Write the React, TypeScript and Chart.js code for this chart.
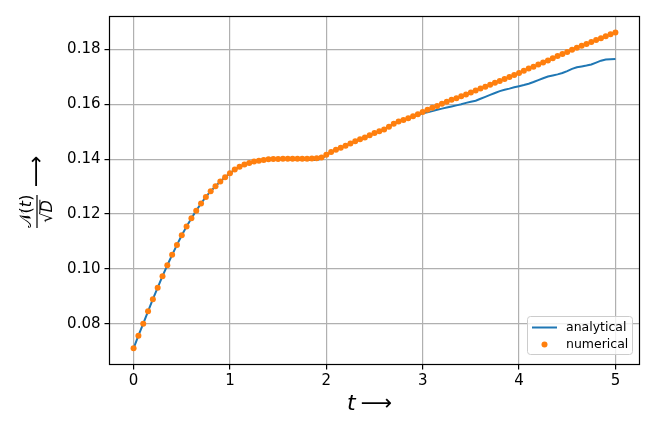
import React, { useEffect, useRef } from "react";
import { Chart, registerables } from "chart.js";

Chart.register(...registerables);

const tValues = [
  0.0, 0.05, 0.1, 0.15, 0.2, 0.25, 0.3, 0.35, 0.4, 0.45,
  0.5, 0.55, 0.6, 0.65, 0.7, 0.75, 0.8, 0.85, 0.9, 0.95,
  1.0, 1.05, 1.1, 1.15, 1.2, 1.25, 1.3, 1.35, 1.4, 1.45,
  1.5, 1.55, 1.6, 1.65, 1.7, 1.75, 1.8, 1.85, 1.9, 1.95,
  2.0, 2.05, 2.1, 2.15, 2.2, 2.25, 2.3, 2.35, 2.4, 2.45,
  2.5, 2.55, 2.6, 2.65, 2.7, 2.75, 2.8, 2.85, 2.9, 2.95,
  3.0, 3.05, 3.1, 3.15, 3.2, 3.25, 3.3, 3.35, 3.4, 3.45,
  3.5, 3.55, 3.6, 3.65, 3.7, 3.75, 3.8, 3.85, 3.9, 3.95,
  4.0, 4.05, 4.1, 4.15, 4.2, 4.25, 4.3, 4.35, 4.4, 4.45,
  4.5, 4.55, 4.6, 4.65, 4.7, 4.75, 4.8, 4.85, 4.9, 4.95,
  5.0,
];

const numericalValues = [
  0.0710, 0.0756, 0.0800, 0.0845, 0.0889, 0.0931, 0.0973, 0.1013, 0.1051, 0.1087,
  0.1122, 0.1154, 0.1184, 0.1212, 0.1238, 0.1262, 0.1283, 0.1301, 0.1318, 0.1334,
  0.1348, 0.1362, 0.1372, 0.1380, 0.1386, 0.1391, 0.1394, 0.1397, 0.1399, 0.1400,
  0.1400, 0.1401, 0.1401, 0.1401, 0.1401, 0.1401, 0.1401, 0.1402, 0.1403, 0.1406,
  0.1416, 0.1426, 0.1434, 0.1441, 0.1449, 0.1457, 0.1465, 0.1472, 0.1479, 0.1487,
  0.1495, 0.1502, 0.1508, 0.1518, 0.1529, 0.1537, 0.1543, 0.1549, 0.1556, 0.1564,
  0.1572, 0.1580, 0.1587, 0.1594, 0.1602, 0.1609, 0.1616, 0.1622, 0.1629, 0.1636,
  0.1643, 0.1650, 0.1657, 0.1664, 0.1671, 0.1678, 0.1685, 0.1692, 0.1699, 0.1707,
  0.1714, 0.1722, 0.1730, 0.1737, 0.1745, 0.1752, 0.1760, 0.1768, 0.1776, 0.1783,
  0.1791, 0.1799, 0.1806, 0.1813, 0.1820, 0.1827, 0.1834, 0.1841, 0.1848, 0.1855,
  0.1862,
];

const analyticalValues = [
  0.0710, 0.0756, 0.0800, 0.0845, 0.0889, 0.0931, 0.0973, 0.1013, 0.1051, 0.1087,
  0.1122, 0.1154, 0.1184, 0.1212, 0.1238, 0.1262, 0.1283, 0.1301, 0.1318, 0.1334,
  0.1348, 0.1362, 0.1372, 0.1380, 0.1386, 0.1391, 0.1394, 0.1397, 0.1399, 0.1400,
  0.1400, 0.1400, 0.1399, 0.1398, 0.1397, 0.1397, 0.1397, 0.1397, 0.1397, 0.1401,
  0.1414, 0.1426, 0.1434, 0.1441, 0.1449, 0.1457, 0.1465, 0.1472, 0.1479, 0.1487,
  0.1495, 0.1502, 0.1508, 0.1518, 0.1529, 0.1537, 0.1543, 0.1549, 0.1556, 0.1561,
  0.1567, 0.1571, 0.1575, 0.1580, 0.1584, 0.1588, 0.1592, 0.1596, 0.1600, 0.1605,
  0.1609, 0.1613, 0.1620, 0.1627, 0.1634, 0.1641, 0.1648, 0.1653, 0.1657, 0.1662,
  0.1666, 0.1670, 0.1675, 0.1681, 0.1688, 0.1695, 0.1701, 0.1705, 0.1709, 0.1714,
  0.1721, 0.1729, 0.1735, 0.1738, 0.1741, 0.1745, 0.1752, 0.1759, 0.1763, 0.1764,
  0.1765,
];

const xTicks = [0, 1, 2, 3, 4, 5];
const yTicks = [0.08, 0.1, 0.12, 0.14, 0.16, 0.18];
const seriesNames = ["analytical", "numerical"];

const FONT = '"DejaVu Sans", sans-serif';
const BLUE = "#1f77b4";
const ORANGE = "#ff7f0e";

const decorPlugin = {
  id: "decor",
  afterDraw(chart: any) {
    const ctx = chart.ctx as CanvasRenderingContext2D;
    const a = chart.chartArea;
    ctx.save();
    // spines
    ctx.strokeStyle = "#000";
    ctx.lineWidth = 1.2;
    ctx.strokeRect(a.left, a.top, a.right - a.left, a.bottom - a.top);

    // legend
    const lx = 527, ly = 316, lw = 105, lh = 38;
    ctx.beginPath();
    (ctx as any).roundRect(lx + 0.5, ly + 0.5, lw, lh, 3);
    ctx.fillStyle = "rgba(255,255,255,0.8)";
    ctx.fill();
    ctx.strokeStyle = "#cccccc";
    ctx.lineWidth = 1;
    ctx.stroke();
    ctx.strokeStyle = BLUE;
    ctx.lineWidth = 2;
    ctx.beginPath();
    ctx.moveTo(532, 327.5);
    ctx.lineTo(557, 327.5);
    ctx.stroke();
    ctx.fillStyle = ORANGE;
    ctx.beginPath();
    ctx.arc(544.5, 344.5, 3, 0, Math.PI * 2);
    ctx.fill();
    ctx.fillStyle = "#000";
    ctx.font = `12.5px ${FONT}`;
    ctx.textBaseline = "middle";
    ctx.textAlign = "left";
    ctx.fillText(seriesNames[0], 566, 327.5);
    ctx.fillText(seriesNames[1], 566, 344.5);

    // x label
    ctx.textBaseline = "alphabetic";
    ctx.font = `italic 22px ${FONT}`;
    ctx.fillText("t", 347, 410);
    const tw = ctx.measureText("t").width;
    ctx.font = `22px ${FONT}`;
    ctx.fillText("\u27F6", 347 + tw + 5, 410);

    // y label (rotated)
    ctx.translate(37, 228);
    ctx.rotate(-Math.PI / 2);
    const segs = [
      { t: "\uD835\uDCA9", f: `16px ${FONT}` },
      { t: "(", f: `16px ${FONT}` },
      { t: "t", f: `italic 16px ${FONT}` },
      { t: ")", f: `16px ${FONT}` },
    ];
    let total = 0;
    for (const s of segs) {
      ctx.font = s.f;
      total += ctx.measureText(s.t).width;
    }
    let u = 16.5 - total / 2;
    for (const s of segs) {
      ctx.font = s.f;
      ctx.fillText(s.t, u, -6);
      u += ctx.measureText(s.t).width;
    }
    ctx.fillRect(0, -0.6, 33, 1.2);
    ctx.font = `16px ${FONT}`;
    const rw = ctx.measureText("\u221A").width;
    ctx.font = `italic 16px ${FONT}`;
    const dw = ctx.measureText("D").width;
    const u0 = 16.5 - (rw + dw) / 2;
    ctx.font = `16px ${FONT}`;
    ctx.fillText("\u221A", u0, 15);
    ctx.font = `italic 16px ${FONT}`;
    ctx.fillText("D", u0 + rw, 15);
    ctx.fillRect(u0 + rw - 0.5, 2.4, dw + 1, 1);
    ctx.font = `22px ${FONT}`;
    ctx.fillText("\u27F6", 41, 6);
    ctx.restore();
  },
};

export default function App() {
  const ref = useRef<HTMLCanvasElement>(null);
  useEffect(() => {
    document.body.style.margin = "0";
    const canvas = ref.current!;
    const analytical = tValues.map((t, i) => ({ x: t, y: analyticalValues[i] }));
    const numerical = tValues.map((t, i) => ({ x: t, y: numericalValues[i] }));
    const chart = new Chart(canvas, {
      type: "scatter",
      data: {
        datasets: [
          {
            label: seriesNames[0],
            data: analytical,
            showLine: true,
            borderColor: BLUE,
            borderWidth: 2,
            pointRadius: 0,
            order: 1,
          },
          {
            label: seriesNames[1],
            data: numerical,
            showLine: false,
            backgroundColor: ORANGE,
            borderWidth: 0,
            pointRadius: 3,
            order: 0,
          },
        ],
      },
      options: {
        responsive: false,
        animation: false,
        devicePixelRatio: 1,
        layout: { padding: { left: 0, top: 16.5, right: 14.5, bottom: 0 } },
        plugins: { legend: { display: false }, tooltip: { enabled: false } },
        scales: {
          x: {
            type: "linear",
            min: -0.25,
            max: 5.25,
            afterBuildTicks: (s: any) => {
              s.ticks = xTicks.map((v) => ({ value: v }));
            },
            afterFit: (s: any) => {
              s.height = 67.5;
            },
            grid: {
              color: "#b0b0b0",
              lineWidth: 1.2,
              tickLength: 5,
              tickColor: "#000",
              tickWidth: 1.2,
            },
            border: { display: false },
            ticks: {
              color: "#000",
              font: { family: FONT, size: 15 },
              padding: 3,
              maxRotation: 0,
              callback: (v: any) => String(v),
            },
          },
          y: {
            type: "linear",
            min: 0.0651,
            max: 0.192,
            afterBuildTicks: (s: any) => {
              s.ticks = yTicks.map((v) => ({ value: v }));
            },
            afterFit: (s: any) => {
              s.width = 109.5;
            },
            grid: {
              color: "#b0b0b0",
              lineWidth: 1.2,
              tickLength: 5,
              tickColor: "#000",
              tickWidth: 1.2,
            },
            border: { display: false },
            ticks: {
              color: "#000",
              font: { family: FONT, size: 15 },
              padding: 4,
              callback: (v: any) => Number(v).toFixed(2),
            },
          },
        },
      },
      plugins: [decorPlugin],
    });
    return () => chart.destroy();
  }, []);
  return (
    <div style={{ width: 654, height: 432 }}>
      <canvas ref={ref} width={654} height={432} />
    </div>
  );
}
